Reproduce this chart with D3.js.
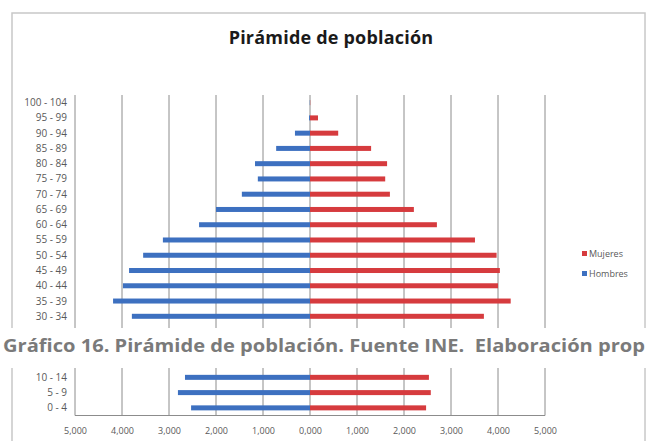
<!DOCTYPE html>
<meta charset="utf-8">
<style>
    body { margin: 0; background: #fff; }
    text { font-family: "Open Sans", sans-serif; }
    .grid line { stroke: #8c8c8c; stroke-width: 1px; }
    .ylab { font-size: 10px; fill: #595959; }
    .xaxis text { font-size: 9px; fill: #595959; }
    .legend text { font-size: 9px; fill: #595959; }
</style>
<svg width="647" height="441"></svg>
<script src="https://cdn.jsdelivr.net/npm/d3@7/dist/d3.min.js"></script>
<script>

    const BLUE = "#3d70c0";
    const RED = "#d63b3e";

    // age groups, youngest first
    var categories = ["0 - 4", "5 - 9", "10 - 14", "15 - 19", "20 - 24", "25 - 29", "30 - 34",
        "35 - 39", "40 - 44", "45 - 49", "50 - 54", "55 - 59", "60 - 64", "65 - 69",
        "70 - 74", "75 - 79", "80 - 84", "85 - 89", "90 - 94", "95 - 99", "100 - 104"];

    var hombres = [2530, 2810, 2660, 2600, 2900, 3300, 3790,
        4190, 3980, 3850, 3550, 3130, 2360, 2000,
        1450, 1110, 1170, 720, 320, 20, 5];

    var mujeres = [2470, 2570, 2530, 2600, 2800, 3200, 3700,
        4270, 4000, 4040, 3970, 3510, 2700, 2210,
        1700, 1600, 1640, 1300, 600, 170, 5];

    var tickValues = [-5000, -4000, -3000, -2000, -1000, 0, 1000, 2000, 3000, 4000, 5000];
    var tickLabels = ["5,000", "4,000", "3,000", "2,000", "1,000", "0,000", "1,000", "2,000", "3,000", "4,000", "5,000"];

    var series = ["Mujeres", "Hombres"];

    // band covered by the document caption
    const COVER_TOP = 328, COVER_BOTTOM = 368;

    var svg = d3.select("svg");

    // outer frame of the chart picture
    svg.append("rect")
        .attr("x", 12).attr("y", 13)
        .attr("width", 633).attr("height", 440)
        .attr("fill", "#fff")
        .attr("stroke", "#c8c8c8")
        .attr("stroke-width", 1.5);

    svg.append("text")
        .attr("x", 331).attr("y", 44)
        .attr("text-anchor", "middle")
        .style("font-size", "18px")
        .style("font-weight", "bold")
        .style("letter-spacing", "0.2px")
        .attr("fill", "#1a1a1a")
        .text("Pirámide de población");

    var x = d3.scaleLinear().domain([-5000, 5000]).range([75, 545]);
    var y = d3.scaleBand().domain(categories.slice().reverse()).range([95, 415.5]);

    var grid = svg.append("g").attr("class", "grid");
    grid.selectAll("line")
        .data(tickValues)
        .enter().append("line")
        .attr("x1", function (d) { return x(d); })
        .attr("x2", function (d) { return x(d); })
        .attr("y1", 95)
        .attr("y2", 415.5);

    grid.append("line")
        .attr("x1", 75).attr("x2", 545)
        .attr("y1", 415.5).attr("y2", 415.5);

    var barH = 5;

    svg.append("g").selectAll("rect")
        .data(categories)
        .enter().append("rect")
        .attr("x", function (d, i) { return x(-hombres[i]); })
        .attr("y", function (d) { return y(d) + y.bandwidth() / 2 - barH / 2; })
        .attr("width", function (d, i) { return x(0) - x(-hombres[i]); })
        .attr("height", barH)
        .attr("fill", BLUE);

    svg.append("g").selectAll("rect")
        .data(categories)
        .enter().append("rect")
        .attr("x", x(0))
        .attr("y", function (d) { return y(d) + y.bandwidth() / 2 - barH / 2; })
        .attr("width", function (d, i) { return x(mujeres[i]) - x(0); })
        .attr("height", barH)
        .attr("fill", RED);

    // category labels (the ones under the caption are not visible)
    var visibleCats = categories.filter(function (d) {
        var c = y(d) + y.bandwidth() / 2;
        return c < COVER_TOP - 3 || c > COVER_BOTTOM + 3;
    });

    svg.append("g").selectAll("text")
        .data(visibleCats)
        .enter().append("text")
        .attr("class", "ylab")
        .attr("x", 67)
        .attr("y", function (d) { return y(d) + y.bandwidth() / 2 + 3.5; })
        .attr("text-anchor", "end")
        .text(function (d) { return d; });

    var xAxis = d3.axisBottom(x)
        .tickValues(tickValues)
        .tickSize(0)
        .tickPadding(12)
        .tickFormat(function (d, i) { return tickLabels[i]; });

    svg.append("g")
        .attr("class", "xaxis")
        .attr("transform", "translate(0,415.5)")
        .call(xAxis)
        .call(function (g) { g.select(".domain").remove(); });

    var legend = svg.append("g").attr("class", "legend");
    var legendY = [254, 274];
    var legendColor = [RED, BLUE];
    series.forEach(function (s, i) {
        legend.append("rect")
            .attr("x", 582).attr("y", legendY[i] - 3)
            .attr("width", 5).attr("height", 5)
            .attr("fill", legendColor[i]);
        legend.append("text")
            .attr("x", 589).attr("y", legendY[i] + 3)
            .text(s);
    });

    // caption of the document laid over the picture
    svg.append("rect")
        .attr("x", 0).attr("y", COVER_TOP)
        .attr("width", 647).attr("height", COVER_BOTTOM - COVER_TOP)
        .attr("fill", "#fff");

    svg.append("text")
        .attr("x", 3).attr("y", 352)
        .attr("textLength", 642)
        .attr("lengthAdjust", "spacingAndGlyphs")
        .style("font-size", "17px")
        .style("font-weight", "bold")
        .style("white-space", "pre")
        .attr("fill", "#7a7a7a")
        .text("Gráfico 16. Pirámide de población. Fuente INE.  Elaboración prop");

</script>
